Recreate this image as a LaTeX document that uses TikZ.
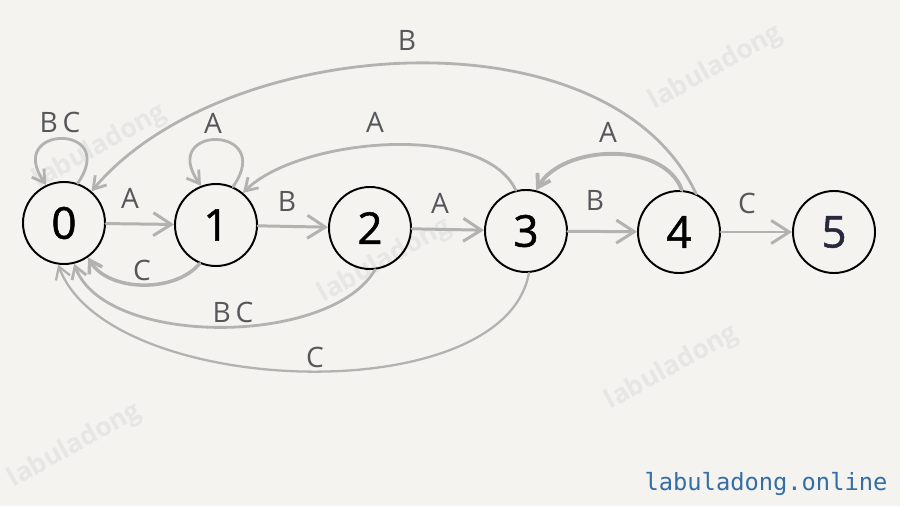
\documentclass[tikz,border=0pt]{standalone}
\usepackage{fontspec}
\setmainfont{Open Sans}
\setmonofont{DejaVu Sans Mono}
\newfontfamily\digitfont{Open Sans}[UprightFeatures={FakeBold=1.2}]
\usetikzlibrary{arrows.meta}
\definecolor{paper}{RGB}{244,243,240}
\definecolor{edgegray}{RGB}{178,178,176}
\definecolor{labelgray}{RGB}{86,87,90}
\definecolor{stampgray}{RGB}{230,230,228}
\definecolor{siteblue}{RGB}{52,110,165}
\definecolor{navy}{RGB}{40,40,62}
\begin{document}
\begin{tikzpicture}
[font=\fontsize{16}{19}\selectfont, line cap=round,
st/.style={circle, draw=black, line width=1.1pt, inner sep=0pt, minimum size=1.64cm, font=\digitfont\fontsize{25}{30}\selectfont},
fwd/.style={draw=edgegray, line width=1.7pt, -{Straight Barb[length=3.6mm, width=4.6mm]}},
ret/.style={draw=edgegray, line width=1.6pt, -{Straight Barb[length=2.4mm, width=3mm]}},
sym/.style={text=labelgray, inner sep=0pt},
stamp/.style={text=stampgray, inner sep=0pt, rotate=29, font=\bfseries\fontsize{15}{18}\selectfont}]

\fill[paper] (0,0) rectangle (18,10.12);
\useasboundingbox (0,0) rectangle (18,10.12);

\node[stamp] (wm1) at (2.00,7.18) {labuladong};
\node[stamp] (wm2) at (14.32,8.76) {labuladong};
\node[stamp] (wm3) at (7.70,4.90) {labuladong};
\node[stamp] (wm4) at (13.44,2.76) {labuladong};
\node[stamp] (wm5) at (1.50,1.20) {labuladong};

\node[st] (s0) at (1.28,5.66) {0};
\node[st] (s1) at (4.32,5.62) {1};
\node[st] (s2) at (7.40,5.56) {2};
\node[st] (s3) at (10.52,5.50) {3};
\node[st] (s4) at (13.58,5.48) {4};
\node[st, text=navy] (s5) at (16.68,5.48) {5};

\draw[fwd] (s0) -- (s1);
\draw[fwd] (s1) -- (s2);
\draw[fwd] (s2) -- (s3);
\draw[fwd] (s3) -- (s4);
\draw[fwd] (s4) -- (s5);

\draw[ret] (s0.71) to[out=55, in=125, looseness=6] (s0.115);
\draw[ret] (s1.66) to[out=55, in=125, looseness=6] (s1.111);
\draw[ret] (s3.104) to[out=115, in=45, looseness=0.72] (s1.50);
\draw[ret, line width=2.2pt] (s4.86) to[out=110, in=60, looseness=0.93] (s3.76);
\draw[ret] (s4.66) to[out=115, in=50, looseness=0.87] (s0.49);
\draw[ret, line width=2pt] (s1.247) to[out=230, in=300, looseness=0.9] (s0.305);
\draw[ret] (s2.277) to[out=240, in=290, looseness=0.755] (s0.284);
\draw[ret, line width=1.3pt] (s3.274) to[out=260, in=290, looseness=0.77] (s0.262);

\node[sym] (a01) at (2.60,6.16) {A};
\node[sym] (b12) at (5.74,6.10) {B};
\node[sym] (a23) at (8.80,6.06) {A};
\node[sym] (b34) at (11.90,6.12) {B};
\node[sym] (c45) at (14.94,6.06) {C};
\node[sym] (bc00) at (1.20,7.68) {B\,C};
\node[sym] (a11) at (4.26,7.66) {A};
\node[sym] (a31) at (7.50,7.68) {A};
\node[sym] (a43) at (12.16,7.48) {A};
\node[sym] (b40) at (8.14,9.32) {B};
\node[sym] (c10) at (2.84,4.72) {C};
\node[sym] (bc20) at (4.66,3.88) {B\,C};
\node[sym] (c30) at (6.30,2.98) {C};

\node[font=\ttfamily\fontsize{13.5}{16}\selectfont, text=siteblue] (site) at (15.32,0.44) {labuladong.online};
\end{tikzpicture}
\end{document}
